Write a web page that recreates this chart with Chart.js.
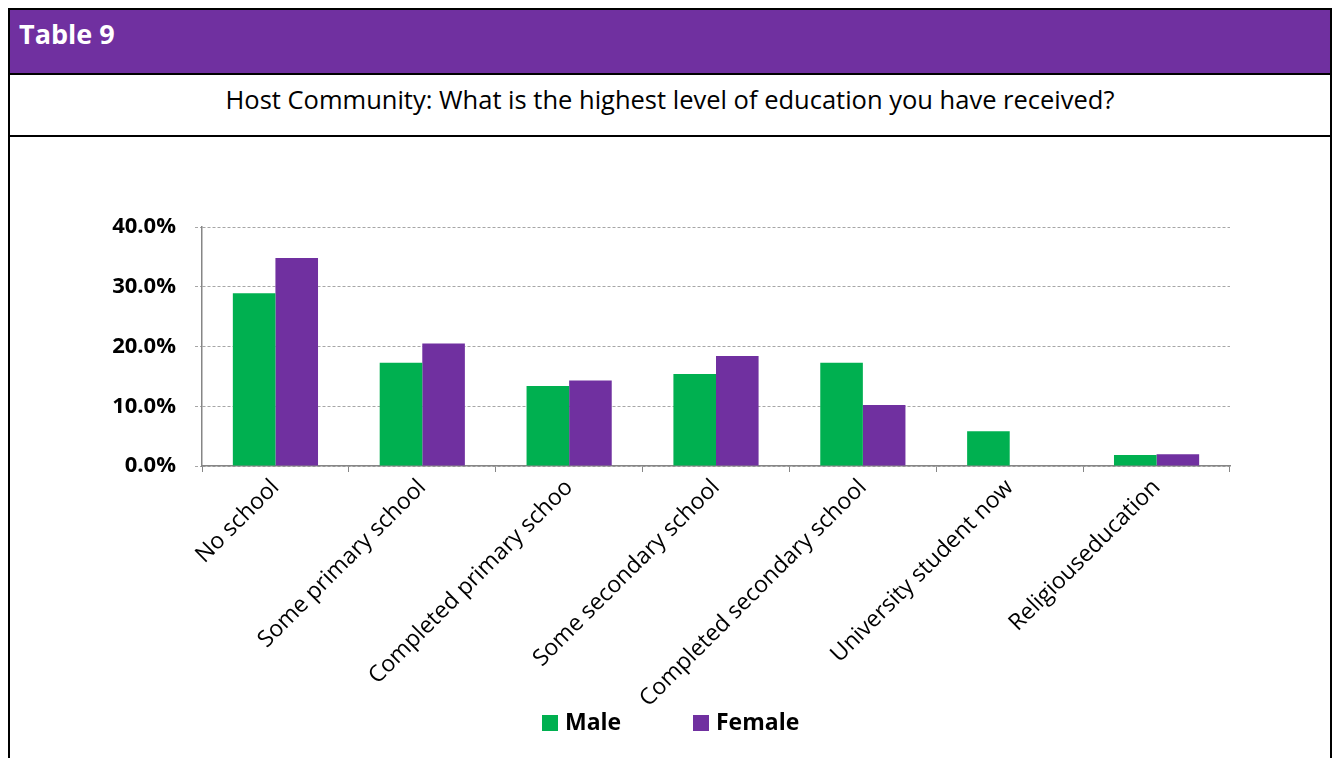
<!DOCTYPE html>
<html>
<head>
<meta charset="utf-8">
<script src="https://cdn.jsdelivr.net/npm/chart.js@4.4.0/dist/chart.umd.min.js"></script>
<style>
  body { margin: 0; background: #fff; font-family: 'Open Sans', sans-serif; }
  #frame { position: absolute; left: 8px; top: 8px; width: 1320px; height: 760px; border: 2px solid #000; border-bottom: none; }
  #header { position: absolute; left: 0; top: 0; width: 1320px; height: 63px; background: #7030A0; border-bottom: 2px solid #000; }
  #header span { position: absolute; left: 9px; top: 5px; line-height: 38px; color: #fff; font-weight: bold; font-size: 27px; }
  #question { position: absolute; left: 0; top: 65px; width: 1320px; height: 60px; border-bottom: 2px solid #000; text-align: center; }
  #question span { display: inline-block; margin-top: 8px; line-height: 32px; font-size: 25.5px; color: #000; }
  #chartBox { position: absolute; left: 0; top: 127px; width: 1320px; height: 623px; }
  #legend { position: absolute; top: 696px; left: 532px; font-weight: bold; font-size: 23px; line-height: 30px; color: #000; }
  #legend .item { position: absolute; white-space: nowrap; }
  #legend .sw { display: inline-block; width: 16px; height: 16px; margin-right: 7px; vertical-align: -1px; }
</style>
</head>
<body>
<div id="frame">
  <div id="header"><span>Table 9</span></div>
  <div id="question"><span>Host Community: What is the highest level of education you have received?</span></div>
  <div id="chartBox"><canvas id="eduChart"></canvas></div>
  <div id="legend">
    <div class="item" style="left:0px;top:0px"><span class="sw" style="background:#00B050"></span>Male</div>
    <div class="item" style="left:151px;top:0px"><span class="sw" style="background:#7030A0"></span>Female</div>
  </div>
</div>
<script>
const categories = ['No school', 'Some primary school', 'Completed primary schoo', 'Some secondary school',
    'Completed secondary school', 'University student now', 'Religiouseducation'];
const maleValues = [28.9, 17.3, 13.4, 15.4, 17.3, 5.8, 1.85];
const femaleValues = [34.8, 20.5, 14.3, 18.4, 10.2, 0, 1.95];
const yTicks = [0, 10, 20, 30, 40];

Chart.defaults.font.family = "'Open Sans', sans-serif";
Chart.defaults.color = '#000';

const ctx = document.getElementById('eduChart');
let eduChart = new Chart(ctx, {
    type: 'bar',
    data: {
        labels: categories,
        datasets: [
            {
                label: 'Male',
                data: maleValues,
                backgroundColor: '#00B050',
                borderWidth: 0,
                categoryPercentage: 0.58,
                barPercentage: 1,
            },
            {
                label: 'Female',
                data: femaleValues,
                backgroundColor: '#7030A0',
                borderWidth: 0,
                categoryPercentage: 0.58,
                barPercentage: 1,
            }
        ]
    },
    options: {
        responsive: true,
        maintainAspectRatio: false,
        animation: false,
        layout: {
            padding: { top: 90, right: 100, bottom: 0, left: 0 }
        },
        scales: {
            x: {
                grid: {
                    display: true,
                    offset: true,
                    drawOnChartArea: false,
                    color: '#868686',
                    tickLength: 6,
                },
                border: { display: true, color: '#868686', width: 1.5 },
                ticks: {
                    minRotation: 45,
                    maxRotation: 45,
                    autoSkip: false,
                    padding: 2,
                    font: { size: 23 },
                    color: '#000',
                },
                afterFit: function(scale) { scale.height = 294; }
            },
            y: {
                min: 0,
                max: 40,
                afterBuildTicks: function(scale) {
                    scale.ticks = yTicks.map(v => ({ value: v }));
                },
                grid: {
                    color: '#a6a6a6',
                    tickLength: 7,
                    tickBorderDash: [3, 2],
                },
                border: { display: true, color: '#868686', width: 1.5, dash: [3, 2] },
                ticks: {
                    padding: 19,
                    font: { size: 22, weight: 'bold' },
                    color: '#000',
                    callback: v => v.toFixed(1) + '%'
                },
                afterFit: function(scale) { scale.width = 192; }
            }
        },
        plugins: {
            legend: { display: false },
            tooltip: { enabled: false }
        }
    }
});
</script>
</body>
</html>
